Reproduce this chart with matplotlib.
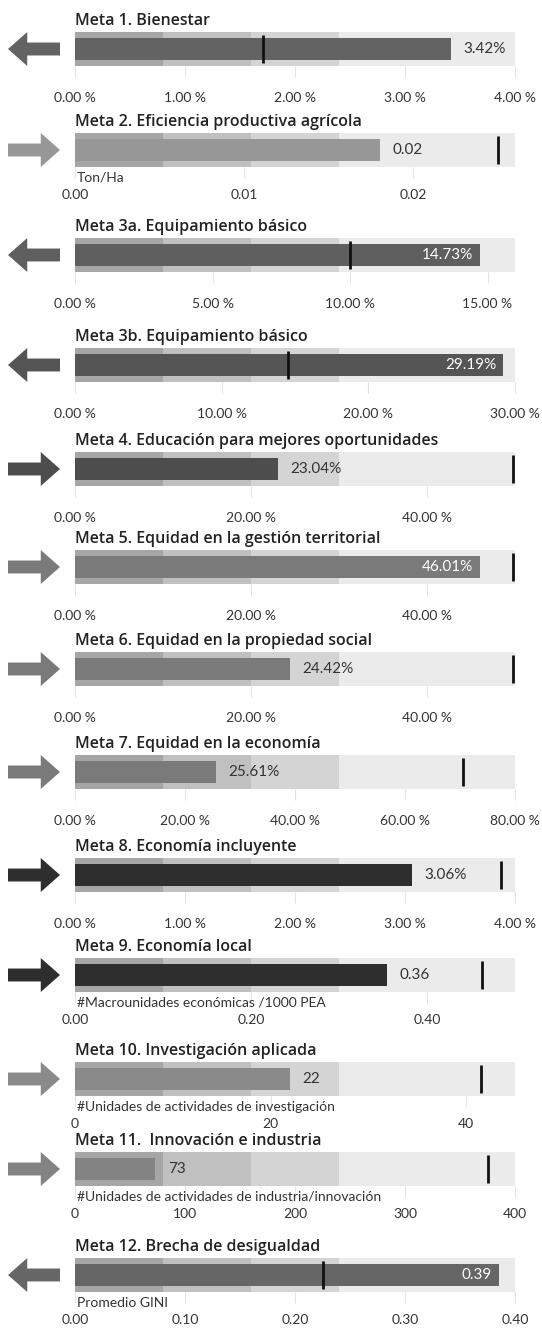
import matplotlib.pyplot as plt
from matplotlib.patches import Polygon

# ================= Daten =================
titles = [
    "Meta 1. Bienestar",
    "Meta 2. Eficiencia productiva agrícola",
    "Meta 3a. Equipamiento básico",
    "Meta 3b. Equipamiento básico",
    "Meta 4. Educación para mejores oportunidades",
    "Meta 5. Equidad en la gestión territorial",
    "Meta 6. Equidad en la propiedad social",
    "Meta 7. Equidad en la economía",
    "Meta 8. Economía incluyente",
    "Meta 9. Economía local",
    "Meta 10. Investigación aplicada",
    "Meta 11.  Innovación e industria",
    "Meta 12. Brecha de desigualdad",
]
values = [3.42, 0.018, 14.73, 29.19, 23.04, 46.01, 24.42, 25.61, 3.06, 0.355, 22, 73, 0.385]
value_labels = ["3.42%", "0.02", "14.73%", "29.19%", "23.04%", "46.01%", "24.42%",
                "25.61%", "3.06%", "0.36", "22", "73", "0.39"]
targets = [1.71, 0.025, 10.0, 14.5, 49.8, 49.8, 49.8, 70.5, 3.87, 0.462, 41.5, 375, 0.225]
axis_max = [4, 0.026, 16, 30, 50, 50, 50, 80, 4, 0.5, 45, 400, 0.4]
ticks = [
    [0, 1, 2, 3, 4],
    [0, 0.01, 0.02],
    [0, 5, 10, 15],
    [0, 10, 20, 30],
    [0, 20, 40],
    [0, 20, 40],
    [0, 20, 40],
    [0, 20, 40, 60, 80],
    [0, 1, 2, 3, 4],
    [0, 0.2, 0.4],
    [0, 20, 40],
    [0, 100, 200, 300, 400],
    [0, 0.1, 0.2, 0.3, 0.4],
]
tick_labels = [
    ["0.00 %", "1.00 %", "2.00 %", "3.00 %", "4.00 %"],
    ["0.00", "0.01", "0.02"],
    ["0.00 %", "5.00 %", "10.00 %", "15.00 %"],
    ["0.00 %", "10.00 %", "20.00 %", "30.00 %"],
    ["0.00 %", "20.00 %", "40.00 %"],
    ["0.00 %", "20.00 %", "40.00 %"],
    ["0.00 %", "20.00 %", "40.00 %"],
    ["0.00 %", "20.00 %", "40.00 %", "60.00 %", "80.00 %"],
    ["0.00 %", "1.00 %", "2.00 %", "3.00 %", "4.00 %"],
    ["0.00", "0.20", "0.40"],
    ["0", "20", "40"],
    ["0", "100", "200", "300", "400"],
    ["0.00", "0.10", "0.20", "0.30", "0.40"],
]
units = ["", "Ton/Ha", "", "", "", "", "", "", "",
         "#Macrounidades económicas /1000 PEA",
         "#Unidades de actividades de investigación",
         "#Unidades de actividades de industria/innovación",
         "Promedio GINI"]
directions = ["left", "right", "left", "left", "right", "right", "right",
              "right", "right", "right", "right", "right", "left"]
label_inside = [False, False, True, True, False, True, False,
                False, False, False, False, False, True]

# ================= Stil / Layout =================
bar_colors = ["#636363", "#979797", "#5f5f5f", "#555555", "#4d4d4d", "#7a7a7a", "#7a7a7a",
              "#7a7a7a", "#2e2e2e", "#2e2e2e", "#8a8a8a", "#838383", "#666666"]
band_colors = ["#a6a6a6", "#c0c0c0", "#d4d4d4"]
bg_color = "#ebebeb"
bg_top = [32, 133, 238, 348, 452, 550, 652, 755, 858, 958, 1062, 1152, 1258]  # px
bg_h = 34
W, H = 542, 1329
x0, x1 = 75, 515

tfont = "Open Sans"
nfont = "Lato"

fig = plt.figure(figsize=(W / 100, H / 100), dpi=100)

for i in range(len(titles)):
    top = bg_top[i]
    ax = fig.add_axes([x0 / W, 1 - (top + bg_h) / H, (x1 - x0) / W, bg_h / H])
    m = axis_max[i]
    ax.set_xlim(0, m)
    ax.set_ylim(0, 1)

    # Hintergrund + Bänder
    ax.axvspan(0, m, color=bg_color, lw=0, zorder=0)
    edges = [0, 0.2 * m, 0.4 * m, 0.6 * m]
    for k in range(3):
        ax.axvspan(edges[k], edges[k + 1], color=band_colors[k], lw=0, zorder=1)

    # Wert-Balken
    ax.barh(0.5, values[i], height=0.62, color=bar_colors[i], zorder=2)
    # Zielmarke
    ax.vlines(targets[i], 0.08, 0.92, color="#111111", lw=2, zorder=3)

    # Wert-Beschriftung
    if label_inside[i]:
        ax.annotate(value_labels[i], (values[i], 0.5), xytext=(-5, 0),
                    textcoords="offset points", ha="right", va="center",
                    color="white", fontsize=11, family=nfont, zorder=4)
    else:
        ax.annotate(value_labels[i], (values[i], 0.5), xytext=(9, 0),
                    textcoords="offset points", ha="left", va="center",
                    color="#333333", fontsize=11, family=nfont, zorder=4)

    # Achse
    for s in ax.spines.values():
        s.set_visible(False)
    ax.set_yticks([])
    ax.set_xticks(ticks[i])
    ax.set_xticklabels(tick_labels[i], family=nfont, fontsize=10, color="#333333")
    pad = 8 if units[i] else 11
    ax.tick_params(axis="x", direction="out", length=8, width=0.8,
                   color="#e3e3e3", pad=pad)

    # Titel
    ax.text(0, 1.08, titles[i], transform=ax.transAxes, ha="left", va="bottom",
            fontsize=11.5, family=tfont, fontweight="semibold", color="#222222")
    # Einheit
    if units[i]:
        ax.text(0.005, -0.14, units[i], transform=ax.transAxes, ha="left", va="top",
                fontsize=10, family=nfont, color="#333333", zorder=5)

    # Pfeil
    aax = fig.add_axes([8 / W, 1 - (top + bg_h) / H, 52 / W, bg_h / H])
    aax.set_xlim(0, 1)
    aax.set_ylim(0, 1)
    aax.axis("off")
    if directions[i] == "left":
        pts = [(0, 0.5), (0.37, 1.0), (0.37, 0.69), (1, 0.69), (1, 0.31), (0.37, 0.31), (0.37, 0.0)]
    else:
        pts = [(1, 0.5), (0.63, 1.0), (0.63, 0.69), (0, 0.69), (0, 0.31), (0.63, 0.31), (0.63, 0.0)]
    aax.add_patch(Polygon(pts, closed=True, color=bar_colors[i], lw=0))

fig.savefig("out.png", dpi=100)
